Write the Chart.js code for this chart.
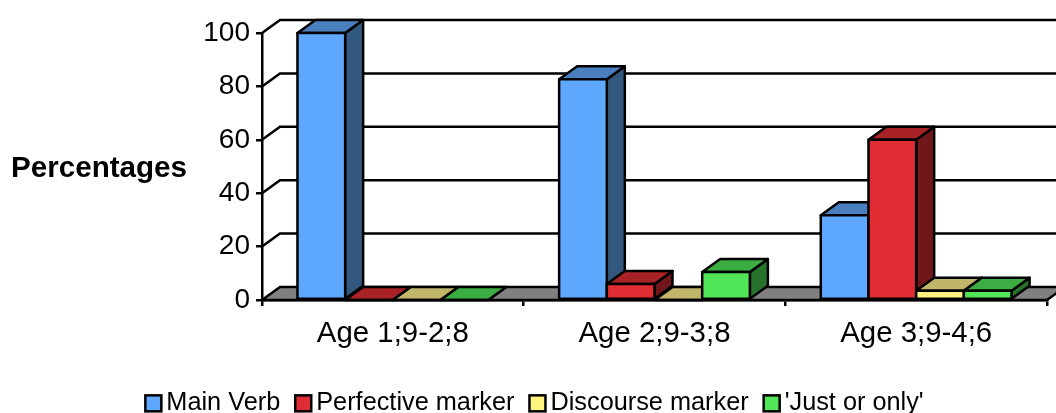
<!DOCTYPE html>
<html><head><meta charset="utf-8">
<style>html,body{margin:0;padding:0;background:#fff}canvas{display:block}</style>
<script src="https://cdn.jsdelivr.net/npm/chart.js@4/dist/chart.umd.min.js"></script>
</head><body><canvas id="c" width="1056" height="413"></canvas>
<script>
const categories = ['Age 1;9-2;8', 'Age 2;9-3;8', 'Age 3;9-4;6'];
const mainVerb = [100, 82.7, 31.7];
const perfectiveMarker = [0, 6, 60];
const discourseMarker = [0, 0, 3.5];
const justOrOnly = [0, 10.5, 3.5];
const seriesNames = ['Main Verb', 'Perfective marker', 'Discourse marker', "'Just or only'"];
const yTicks = [0, 20, 40, 60, 80, 100];
const yTitle = 'Percentages';
const fronts = ['#5FA8FF', '#E02D33', '#FFF380', '#50E658'];
const tops = ['#4A7FBF', '#A82226', '#BFB66A', '#3CAD42'];
const sides = ['#33587F', '#701719', '#807A40', '#28732C'];
const DX = 18, DY = 13, FONT = '"Liberation Sans", Arial, sans-serif';
const LEGEND_FONT = 25.3, LEGEND_BOX = 16, SHIFT_X = 11, SHIFT_Y = 13, LW = 2.5;

function poly(ctx, pts, fill) {
  ctx.beginPath();
  pts.forEach((p, i) => i ? ctx.lineTo(p[0], p[1]) : ctx.moveTo(p[0], p[1]));
  ctx.closePath();
  ctx.fillStyle = fill; ctx.fill();
  ctx.strokeStyle = '#000'; ctx.lineWidth = LW; ctx.lineJoin = 'round'; ctx.stroke();
}

const threeD = {
  id: 'threeD',
  beforeDatasetsDraw(chart) {
    const ctx = chart.ctx, y = chart.scales.y, a = chart.chartArea;
    ctx.save();
    const y0 = y.getPixelForValue(0);
    ctx.beginPath();
    ctx.moveTo(a.left, y0); ctx.lineTo(a.left + DX, y0 - DY);
    ctx.lineTo(a.right + DX, y0 - DY); ctx.lineTo(a.right, y0); ctx.closePath();
    ctx.fillStyle = '#808080'; ctx.fill();
    ctx.strokeStyle = '#000'; ctx.lineWidth = LW;
    yTicks.forEach(v => {
      const p = y.getPixelForValue(v);
      ctx.beginPath();
      ctx.moveTo(a.left, p); ctx.lineTo(a.left + DX, p - DY); ctx.lineTo(a.right + DX, p - DY);
      ctx.stroke();
    });
    ctx.beginPath(); ctx.moveTo(a.right, y0); ctx.lineTo(a.right + DX, y0 - DY); ctx.stroke();
    ctx.restore();
  },
  afterDatasetsDraw(chart) {
    const ctx = chart.ctx;
    ctx.save();
    chart.data.datasets.forEach((ds, i) => {
      chart.getDatasetMeta(i).data.forEach(bar => {
        const p = bar.getProps(['x', 'y', 'base', 'width'], true);
        const l = p.x - p.width / 2, r = p.x + p.width / 2;
        poly(ctx, [[r, p.y], [r + DX, p.y - DY], [r + DX, p.base - DY], [r, p.base]], sides[i]);
        poly(ctx, [[l, p.y], [l + DX, p.y - DY], [r + DX, p.y - DY], [r, p.y]], tops[i]);
        bar.draw(ctx);
        if (p.base - p.y > 0.5) {
          ctx.strokeStyle = '#000'; ctx.lineWidth = LW;
          ctx.strokeRect(l, p.y, r - l, p.base - p.y);
        }
      });
    });
    const a = chart.chartArea, y0 = chart.scales.y.getPixelForValue(0);
    ctx.strokeStyle = '#000'; ctx.lineWidth = LW;
    ctx.beginPath(); ctx.moveTo(a.left, y0); ctx.lineTo(a.right, y0); ctx.stroke();
    ctx.restore();
  },
  beforeDraw(chart) {
    const lg = chart.legend;
    if (!lg._shifted) { lg.left += SHIFT_X; lg.right += SHIFT_X; lg.top += SHIFT_Y; lg.bottom += SHIFT_Y; lg._shifted = true; }
  },
  afterDraw(chart) {
    const ctx = chart.ctx;
    ctx.save();
    chart.legend.legendHitBoxes.forEach((h, i) => {
      const top = h.top + SHIFT_Y + h.height / 2 - LEGEND_BOX / 2, left = h.left + SHIFT_X;
      ctx.fillStyle = fronts[i]; ctx.fillRect(left, top, LEGEND_BOX, LEGEND_BOX);
      ctx.strokeStyle = '#000'; ctx.lineWidth = LW; ctx.strokeRect(left, top, LEGEND_BOX, LEGEND_BOX);
    });
    ctx.fillStyle = '#000'; ctx.font = 'bold 29.6px ' + FONT;
    ctx.textAlign = 'left'; ctx.textBaseline = 'middle';
    ctx.fillText(yTitle, 11, 169);
    ctx.restore();
  }
};

new Chart(document.getElementById('c'), {
  type: 'bar',
  data: {
    labels: categories,
    datasets: [mainVerb, perfectiveMarker, discourseMarker, justOrOnly].map((d, i) => ({
      label: seriesNames[i], data: d, backgroundColor: fronts[i], borderWidth: 0,
      categoryPercentage: 0.729, barPercentage: 1
    }))
  },
  options: {
    responsive: false, animation: false,
    layout: { padding: { top: 33, right: 9, left: 0, bottom: 0 } },
    plugins: {
      title: { display: false }, tooltip: { enabled: false },
      legend: {
        position: 'bottom',
        labels: {
          color: '#000', font: { family: FONT, size: LEGEND_FONT }, padding: 15,
          boxWidth: 21 - LEGEND_FONT / 2, boxHeight: LEGEND_BOX,
          generateLabels: chart => chart.data.datasets.map((d, i) => ({
            text: d.label, fillStyle: 'transparent', strokeStyle: 'transparent', lineWidth: 0, datasetIndex: i
          }))
        }
      }
    },
    scales: {
      x: {
        afterFit: s => { s.height = 113 - (s.chart.legend && s.chart.legend.height || 54); },
        grid: { drawOnChartArea: false, color: '#000', lineWidth: LW, tickLength: 6, offset: true },
        border: { display: true, color: '#000', width: LW },
        ticks: { color: '#000', font: { family: FONT, size: 29.4 }, padding: 10, maxRotation: 0, autoSkip: false }
      },
      y: {
        min: 0, max: 100,
        afterFit: s => { s.width = 262; },
        afterBuildTicks: s => { s.ticks = yTicks.map(v => ({ value: v })); },
        grid: { drawOnChartArea: false, color: '#000', lineWidth: LW, tickLength: 6 },
        border: { display: true, color: '#000', width: LW },
        ticks: { color: '#000', font: { family: FONT, size: 28 }, padding: 6 }
      }
    }
  },
  plugins: [threeD]
});
</script></body></html>
